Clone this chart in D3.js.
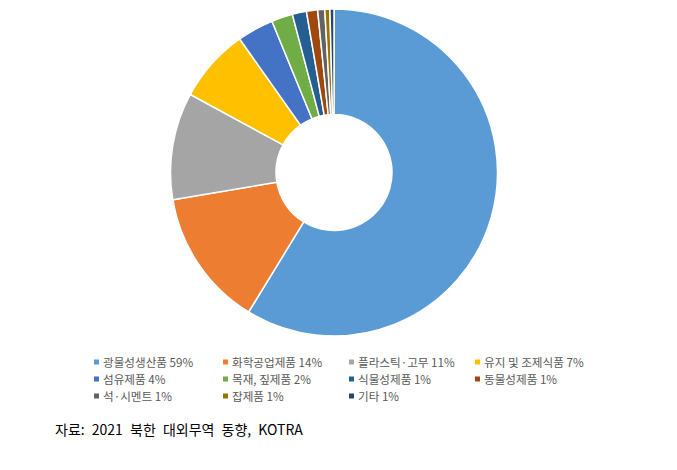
<!DOCTYPE html>
<html>
<head>
<meta charset="utf-8">
<script src="https://cdn.jsdelivr.net/npm/d3@7"></script>
<style>
  body { margin: 0; background: #fff; }
  svg { display: block; }
</style>
</head>
<body>
<div id="chart"></div>
<script>
// categories and shares
const categories = ["광물성생산품", "화학공업제품", "플라스틱·고무", "유지 및 조제식품", "섬유제품", "목재, 짚제품",
  "식물성제품", "동물성제품", "석·시멘트", "잡제품", "기타"];
const shares = [58.8, 13.6, 10.6, 7.3, 3.6, 2.1, 1.4, 1.1, 0.7, 0.5, 0.4];
const pctLabels = ["59%", "14%", "11%", "7%", "4%", "2%", "1%", "1%", "1%", "1%", "1%"];
const palette = ["#5b9bd5", "#ed7d31", "#a5a5a5", "#ffc000", "#4472c4", "#70ad47",
  "#255e91", "#9e480e", "#636363", "#997300", "#264478"];

const width = 677, height = 470;
const cx = 334, cy = 172.5, outerR = 163.5, innerR = 58;

const svg = d3.select("#chart").append("svg")
  .attr("width", width)
  .attr("height", height);

const color = d3.scaleOrdinal().domain(categories).range(palette);

const pie = d3.pie().sort(null).value((d) => d.value);
const arc = d3.arc().innerRadius(innerR).outerRadius(outerR);

const rows = categories.map((c, i) => ({ name: c, value: shares[i], pct: pctLabels[i] }));

// donut
svg.append("g")
  .attr("transform", `translate(${cx}, ${cy})`)
  .selectAll("path")
  .data(pie(rows))
  .enter()
  .append("path")
  .attr("d", arc)
  .attr("fill", (d) => color(d.data.name))
  .attr("stroke", "#fff")
  .attr("stroke-width", 1.5);

// legend, 4 columns
const colX = [94, 223, 349, 475];
const rowY = [362, 379, 396];

const legendItem = svg.append("g")
  .attr("class", "legend")
  .selectAll("g")
  .data(rows)
  .enter()
  .append("g")
  .attr("transform", (d, i) => `translate(${colX[i % 4]}, ${rowY[Math.floor(i / 4)]})`);

legendItem.append("rect")
  .attr("x", 0)
  .attr("y", -2.5)
  .attr("width", 5)
  .attr("height", 5)
  .attr("fill", (d) => color(d.name));

legendItem.append("text")
  .attr("x", 9)
  .attr("y", 4.5)
  .attr("font-family", "'Noto Sans CJK KR', 'Noto Sans', sans-serif")
  .attr("font-size", "11.6px")
  .attr("fill", "#595959")
  .text((d) => `${d.name} ${d.pct}`);

// source note
svg.append("text")
  .attr("x", 55)
  .attr("y", 435)
  .attr("font-family", "'Noto Sans CJK KR', 'Noto Sans', sans-serif")
  .attr("font-size", "14px")
  .attr("word-spacing", "4px")
  .attr("fill", "#000")
  .text("자료: 2021 북한 대외무역 동향, KOTRA");
</script>
</body>
</html>
